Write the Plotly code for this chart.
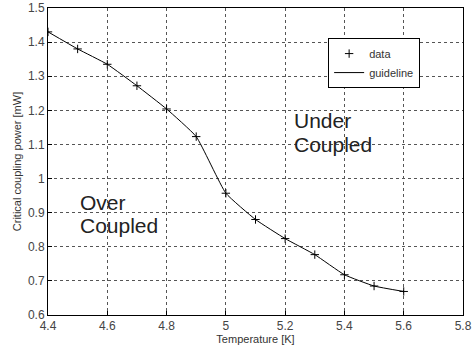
import plotly.graph_objects as go

temperature = [4.4, 4.5, 4.6, 4.7, 4.8, 4.9, 5.0, 5.1, 5.2, 5.3, 5.4, 5.5, 5.6]
power = [1.43, 1.38, 1.335, 1.272, 1.204, 1.123, 0.957, 0.88, 0.824, 0.777, 0.718, 0.685, 0.669]
x_ticks = [4.4, 4.6, 4.8, 5.0, 5.2, 5.4, 5.6, 5.8]
x_tick_labels = ["4.4", "4.6", "4.8", "5", "5.2", "5.4", "5.6", "5.8"]
y_ticks = [0.6, 0.7, 0.8, 0.9, 1.0, 1.1, 1.2, 1.3, 1.4, 1.5]
y_tick_labels = ["0.6", "0.7", "0.8", "0.9", "1", "1.1", "1.2", "1.3", "1.4", "1.5"]
region_labels = [
    ("Under", 5.224, 1.1716),
    ("Coupled", 5.224, 1.1012),
    ("Over", 4.501, 0.931),
    ("Coupled", 4.501, 0.861),
]

FONT = "Liberation Sans, Arial"

fig = go.Figure()
fig.add_trace(go.Scatter(
    x=temperature, y=power, mode="markers", name="data",
    marker=dict(symbol="cross-thin", size=6, line=dict(color="black", width=1), color="black"),
))
fig.add_trace(go.Scatter(
    x=temperature, y=power, mode="lines", name="guideline",
    line=dict(color="black", width=1, shape="spline", smoothing=0.4),
))

axis_common = dict(
    showgrid=True, gridcolor="#555555", griddash="dot", gridwidth=1,
    showline=True, linecolor="black", linewidth=1, mirror=True,
    ticks="inside", ticklen=4, tickcolor="black",
    tickfont=dict(family=FONT, size=12, color="#444444"),
    zeroline=False, automargin=False,
)
fig.update_xaxes(range=[4.4, 5.8], tickvals=x_ticks, ticktext=x_tick_labels,
                 title=dict(text="Temperature [K]", font=dict(family=FONT, size=11, color="#333333"), standoff=2),
                 **axis_common)
fig.update_yaxes(range=[0.6, 1.5], tickvals=y_ticks, ticktext=y_tick_labels,
                 title=dict(text="Critical coupling power [mW]", font=dict(family=FONT, size=11, color="#333333"), standoff=4),
                 **axis_common)

for text, xv, yv in region_labels:
    fig.add_annotation(x=xv, y=yv, xref="x", yref="y", text=text, showarrow=False,
                       xanchor="left", yanchor="middle", align="left",
                       font=dict(family=FONT, size=21, color="#222222"))

fig.update_layout(
    width=473, height=351,
    margin=dict(l=48, r=10, t=8, b=36),
    plot_bgcolor="white", paper_bgcolor="white",
    showlegend=True,
    legend=dict(x=0.675, y=0.902, xanchor="left", yanchor="top",
                bgcolor="white", bordercolor="black", borderwidth=1,
                font=dict(family=FONT, size=11, color="#333333"),
                tracegroupgap=0, itemwidth=30),
)

fig.write_html("out.html")
